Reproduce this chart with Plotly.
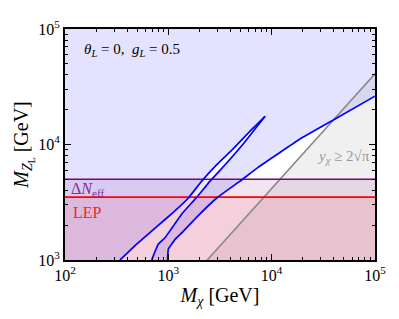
import plotly.graph_objects as go

# ---- data (GeV) ----
curve1_mchi = [340, 494, 773, 1117, 1563, 2104, 2944, 4256, 6180, 8630]
curve1_mz   = [1000, 1374, 1945, 2588, 3443, 4820, 6697, 9206, 13060, 17550]

curve2_mchi = [690, 800, 929, 1079, 1349, 1884, 2535, 3673, 5322, 8630]
curve2_mz   = [1000, 1374, 1560, 1884, 2506, 3493, 4820, 6918, 10140, 17550]

curve3_mchi = [982, 1000, 1079, 1161, 1396, 1884, 2944, 4943, 7380, 18840, 39540, 100000]
curve3_mz   = [1000, 1245, 1374, 1510, 1771, 2355, 3443, 4820, 6340, 11150, 16290, 26230]

pert_mchi = [2380, 100000]
pert_mz   = [1000, 41000]

dneff_mz = 5000
lep_mz = 3500

x_min, x_max = 100, 100000
y_min, y_max = 1000, 100000

x_ticks = [100, 1000, 10000, 100000]
x_ticktext = ["10<sup>2</sup>", "10<sup>3</sup>", "10<sup>4</sup>", "10<sup>5</sup>"]
y_ticks = [1000, 10000, 100000]
y_ticktext = ["10<sup>3</sup>", "10<sup>4</sup>", "10<sup>5</sup>"]
x_minor = [m * d for d in (100, 1000, 10000) for m in range(2, 10)]
y_minor = [m * d for d in (1000, 10000) for m in range(2, 10)]

SERIF = "Liberation Serif, DejaVu Serif, serif"

fig = go.Figure()

# blue excluded region: above curve 3, outside the lens between curves 1 and 2
bx = [x_min] + curve1_mchi + curve2_mchi[::-1][1:] + curve3_mchi + [x_max, x_min, x_min]
by = [y_min] + curve1_mz + curve2_mz[::-1][1:] + curve3_mz + [y_max, y_max, y_min]
fig.add_trace(go.Scatter(x=bx, y=by, fill="toself", mode="none",
                         fillcolor="rgba(0,0,255,0.11)", hoverinfo="skip", showlegend=False))

# grey non-perturbative region
gx = pert_mchi + [x_max, pert_mchi[0]]
gy = pert_mz + [y_min, pert_mz[0]]
fig.add_trace(go.Scatter(x=gx, y=gy, fill="toself", mode="none",
                         fillcolor="rgba(128,128,128,0.12)", hoverinfo="skip", showlegend=False))

# Delta N_eff region
fig.add_trace(go.Scatter(x=[x_min, x_max, x_max, x_min, x_min],
                         y=[y_min, y_min, dneff_mz, dneff_mz, y_min],
                         fill="toself", mode="none", fillcolor="rgba(128,0,128,0.10)",
                         hoverinfo="skip", showlegend=False))
# LEP region
fig.add_trace(go.Scatter(x=[x_min, x_max, x_max, x_min, x_min],
                         y=[y_min, y_min, lep_mz, lep_mz, y_min],
                         fill="toself", mode="none", fillcolor="rgba(255,0,0,0.09)",
                         hoverinfo="skip", showlegend=False))

# lines
fig.add_trace(go.Scatter(x=pert_mchi, y=pert_mz, mode="lines",
                         line=dict(color="#888888", width=1.6), showlegend=False))
fig.add_trace(go.Scatter(x=[x_min, x_max], y=[dneff_mz, dneff_mz], mode="lines",
                         line=dict(color="#800080", width=1.6), showlegend=False))
fig.add_trace(go.Scatter(x=[x_min, x_max], y=[lep_mz, lep_mz], mode="lines",
                         line=dict(color="#ff0000", width=1.6), showlegend=False))
for cx, cy in [(curve1_mchi, curve1_mz), (curve2_mchi, curve2_mz), (curve3_mchi, curve3_mz)]:
    fig.add_trace(go.Scatter(x=cx, y=cy, mode="lines",
                             line=dict(color="#0000ff", width=1.7, shape="spline", smoothing=0.3),
                             showlegend=False))

axis_common = dict(type="log", showgrid=False, zeroline=False, showline=True,
                   linecolor="black", linewidth=1.8, mirror="allticks",
                   ticks="inside", ticklen=6, tickwidth=1, tickcolor="black",
                   tickfont=dict(family=SERIF, size=16, color="black"))

fig.update_xaxes(**axis_common, range=[2, 5], tickvals=x_ticks, ticktext=x_ticktext,
                 minor=dict(ticks="inside", ticklen=3, tickwidth=0.8, tickcolor="black",
                            showgrid=False, tickmode="array", tickvals=x_minor),
                 title=dict(text="<i>M</i><sub><i>χ</i></sub> [GeV]",
                            font=dict(family=SERIF, size=20, color="black"), standoff=2))
fig.update_yaxes(**axis_common, range=[3, 5], tickvals=y_ticks, ticktext=y_ticktext,
                 minor=dict(ticks="inside", ticklen=3, tickwidth=0.8, tickcolor="black",
                            showgrid=False, tickmode="array", tickvals=y_minor),
                 title=dict(text="<i>M</i><sub><i>Z</i><sub>L</sub></sub> [GeV]",
                            font=dict(family=SERIF, size=20, color="black"), standoff=4))

fig.add_annotation(xref="paper", yref="paper", x=0.055, y=0.909, xanchor="left", yanchor="middle",
                   text="<i>θ</i><sub><i>L</i></sub> = 0,  <i>g</i><sub><i>L</i></sub> = 0.5",
                   showarrow=False, font=dict(family=SERIF, size=15, color="black"))
fig.add_annotation(xref="paper", yref="paper", x=0.012, y=0.306, xanchor="left", yanchor="middle",
                   text="Δ<i>N</i><sub>eff</sub>", showarrow=False,
                   font=dict(family=SERIF, size=16, color="#8b2a8b"))
fig.add_annotation(xref="paper", yref="paper", x=0.018, y=0.206, xanchor="left", yanchor="middle",
                   text="LEP", showarrow=False,
                   font=dict(family=SERIF, size=16, color="#ff2020"))
fig.add_annotation(xref="paper", yref="paper", x=0.99, y=0.446, xanchor="right", yanchor="middle",
                   text="<i>y</i><sub><i>χ</i></sub> ≥ 2√π", showarrow=False,
                   font=dict(family=SERIF, size=15, color="#999999"))

# page body has an 8px default margin, so the figure is sized to fit the window
fig.update_layout(width=391, height=311, margin=dict(l=57, r=24, t=10, b=59),
                  plot_bgcolor="white", paper_bgcolor="white", showlegend=False)

fig.write_html("out.html")
